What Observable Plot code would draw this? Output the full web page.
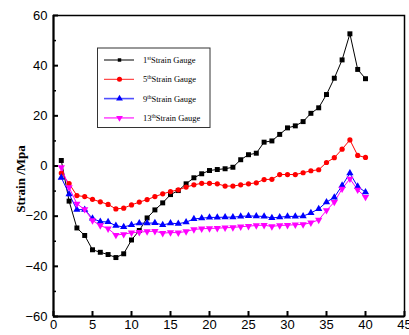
<!DOCTYPE html>
<html><head><meta charset="utf-8">
<script src="https://cdn.jsdelivr.net/npm/d3@7"></script>
<script src="https://cdn.jsdelivr.net/npm/@observablehq/plot@0.6"></script>
<style>body{margin:0;background:#fff} svg{display:block}</style>
</head><body><div id="chart"></div>
<script>
const gaugeStep = d3.range(1, 41);
const gauge1 = [2.2,-14,-24.7,-27.7,-33.4,-34.4,-35.3,-36.5,-35,-29.5,-25.7,-20.7,-17.5,-14.7,-11.4,-9.8,-7.1,-4.7,-3.1,-1.8,-1.4,-1.1,-0.5,2.5,4.5,5.1,9.5,10,12.6,15.2,16,17.7,21,23.2,28.5,35,42.3,52.7,38.5,34.8];
const gauge5 = [-2.8,-7,-11.8,-12.2,-13.3,-14.3,-15.3,-17.1,-16.8,-15.5,-14.4,-13.4,-12.2,-11.1,-10.2,-9.5,-8.4,-7.5,-6.9,-6.9,-7.1,-8,-8,-7.5,-7.1,-6.7,-5.4,-5.3,-3.4,-3.4,-3.4,-2.7,-1.9,-1.5,1.4,3.3,6.7,10.4,4.2,3.4];
const gauge9 = [-4.6,-11.2,-17.4,-17.4,-20.9,-22.2,-22.3,-23.8,-24.3,-23.5,-22.8,-22.8,-22.7,-23.5,-22.8,-23,-22.4,-21.1,-20.8,-20.5,-20.5,-20.4,-20.4,-20.1,-19.9,-20,-20.1,-20.7,-20.4,-20.1,-20.1,-20,-18.7,-17.1,-14.4,-12.5,-7.8,-2.9,-8.2,-10.4];
const gauge13 = [-0.5,-8.5,-15.1,-17.3,-21.7,-23.7,-25,-27.5,-27.2,-26.6,-26.4,-26.1,-26,-26.8,-26.5,-26.6,-26.1,-25.3,-25,-24.9,-24.8,-24.6,-24.5,-24.2,-24,-23.7,-23.6,-24.1,-23.7,-23.6,-23.4,-23.3,-22.6,-21.5,-17.7,-14.4,-9.1,-5.1,-9.5,-12.4];
const ordinals = ["1", "5", "9", "13"];
const suffixes = ["st", "th", "th", "th"];
const xTicks = d3.range(0, 46, 5);
const yTicks = d3.range(-60, 61, 20);
const yMinorTicks = [-50, -30, -10, 10, 30, 50];
const yTitle = "Strain /Mpa";

const seriesColors = ["#000000", "#ff0000", "#0000ff", "#ff00ff"];
const seriesSymbols = ["square", "circle", "triangle", "triangle"];
const seriesRotate = [0, 0, 0, 180];
const seriesR = [2.8, 2.6, 2.7, 2.7];
const allSeries = [gauge1, gauge5, gauge9, gauge13];

const table = [];
allSeries.forEach((vals, s) => vals.forEach((v, i) => table.push({step: gaugeStep[i], value: v, s})));

const marks = [
  Plot.frame({stroke: "#000", strokeWidth: 1.5}),
  Plot.ruleX([0], {stroke: "#000", strokeWidth: 2}),
  Plot.ruleY([-60], {stroke: "#000", strokeWidth: 2}),
  Plot.axisX(xTicks, {tickSize: 5, dy: -5, tickFormat: () => "", strokeWidth: 2}),
  Plot.axisX(xTicks, {tickSize: 0, tickPadding: 3}),
  Plot.axisY(yTicks, {tickSize: 5, dx: 5, tickFormat: () => "", strokeWidth: 2}),
  Plot.axisY(yMinorTicks, {tickSize: 3, dx: 3, tickFormat: () => "", strokeWidth: 1.5}),
  Plot.axisY(yTicks, {tickSize: 0, tickPadding: 6})
];
allSeries.forEach((vals, s) => {
  const rows = table.filter(d => d.s === s);
  marks.push(Plot.line(rows, {x: "step", y: "value", stroke: seriesColors[s], strokeWidth: 1}));
});
allSeries.forEach((vals, s) => {
  const rows = table.filter(d => d.s === s);
  marks.push(Plot.dot(rows, {x: "step", y: "value", fill: seriesColors[s], stroke: "none", symbol: seriesSymbols[s], r: seriesR[s], rotate: seriesRotate[s]}));
});

const chart = Plot.plot({
  width: 409, height: 335,
  marginLeft: 53, marginRight: 5, marginTop: 15, marginBottom: 19,
  x: {domain: [0, 45], label: null},
  y: {domain: [-60, 60], label: null},
  style: {fontFamily: "'Liberation Sans', Arial, sans-serif", fontSize: "13px", color: "#000", background: "#fff"},
  marks
});
document.getElementById("chart").appendChild(chart);

const svg = d3.select(chart);
svg.append("text")
  .attr("transform", "translate(25,179) rotate(-90)")
  .attr("text-anchor", "middle")
  .attr("font-family", "'Liberation Serif', 'Times New Roman', serif")
  .attr("font-weight", "bold")
  .attr("font-size", 13)
  .attr("fill", "#000")
  .text(yTitle);

// legend
const lg = svg.append("g");
lg.append("rect").attr("x", 97.5).attr("y", 48).attr("width", 112.5).attr("height", 79.5)
  .attr("fill", "#fff").attr("stroke", "#333").attr("stroke-width", 1);
const legendSym = [d3.symbolSquare, d3.symbolCircle, d3.symbolTriangle, d3.symbolTriangle];
const lineW = [1, 1, 1.6, 1.6];
const lineC = ["#000", "#ff2020", "#5050ff", "#ff50ff"];
ordinals.forEach((o, i) => {
  const y = 60 + i * 19.3;
  lg.append("line").attr("x1", 104).attr("x2", 134).attr("y1", y).attr("y2", y)
    .attr("stroke", lineC[i]).attr("stroke-width", lineW[i]);
  lg.append("path").attr("d", d3.symbol(legendSym[i], i === 0 ? 12 : 20)())
    .attr("transform", `translate(119.5,${y}) rotate(${seriesRotate[i]})`)
    .attr("fill", seriesColors[i]);
  const t = lg.append("text").attr("x", 143).attr("y", y + 3)
    .attr("text-anchor", "start")
    .attr("font-family", "'Liberation Serif', 'Times New Roman', serif")
    .attr("font-size", 8.5).attr("fill", "#000");
  t.append("tspan").text(o);
  t.append("tspan").attr("font-size", 5.5).attr("dy", -3).text(suffixes[i]);
  t.append("tspan").attr("dy", 3).text("Strain Gauge");
});
</script></body></html>
